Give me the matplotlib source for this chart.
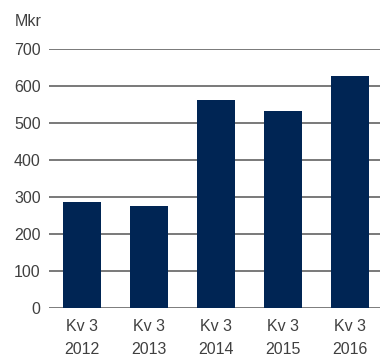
import matplotlib
matplotlib.use('Agg')
from matplotlib import pyplot as plt

# data
quarters = ["Kv 3\n2012", "Kv 3\n2013", "Kv 3\n2014", "Kv 3\n2015", "Kv 3\n2016"]
values = [288, 277, 563, 533, 629]
yticks = [0, 100, 200, 300, 400, 500, 600, 700]

plt.rcParams['font.family'] = ['Liberation Sans', 'DejaVu Sans']

fig = plt.figure(figsize=(3.8, 3.56), dpi=100)
ax = fig.add_axes([0.129, 0.134, 0.871, 0.7275])

ax.bar(range(len(values)), values, width=0.567, color="#002554", zorder=3)

ax.set_xlim(-0.49, 4.45)
ax.set_ylim(0, 700)
ax.set_yticks(yticks)
ax.set_xticks(range(len(quarters)))
ax.set_xticklabels(quarters, linespacing=1.6)

for y in yticks:
    ax.axhline(y, color="#555555", lw=1.1 if y else 1.8, zorder=1)

for s in ax.spines.values():
    s.set_visible(False)
ax.tick_params(axis="both", length=0, labelsize=11.5, colors="#404040")
ax.tick_params(axis="y", pad=6)
ax.tick_params(axis="x", pad=8)

fig.text(15 / 380, 1 - 21 / 356, "Mkr", fontsize=11.5, color="#404040", va="center", ha="left")

fig.savefig("out.png", dpi=100)
